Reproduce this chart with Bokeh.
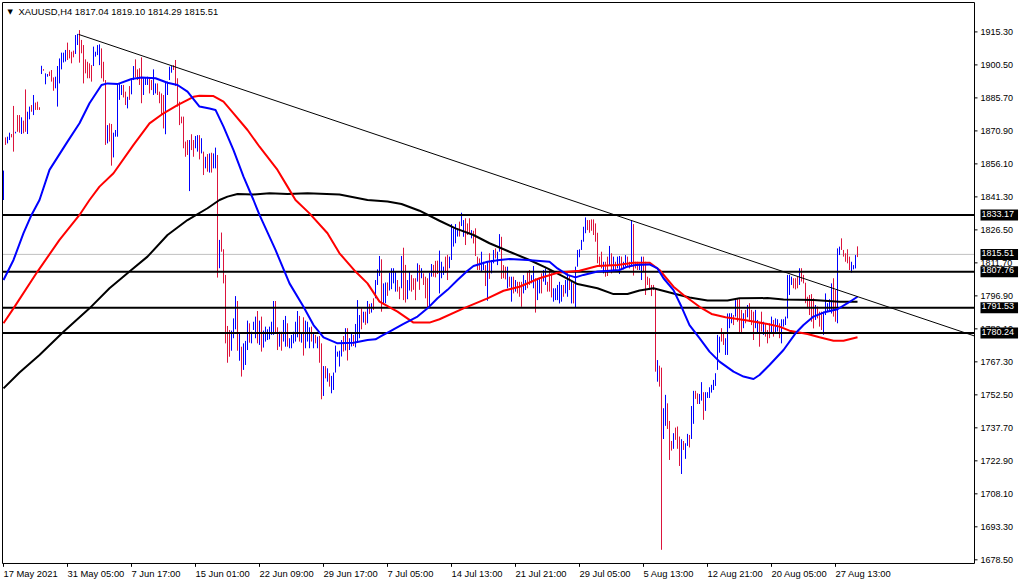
from bokeh.plotting import figure
from bokeh.embed import file_html
from bokeh.resources import INLINE
from bokeh.core.properties import value
from bokeh.models import Label, Range1d

# H4 bars, one per index
bar_high = [
    1853.1, 1868.0, 1868.3, 1870.1, 1869.5, 1882.1, 1870.5, 1878.0, 1878.0, 1877.0,
    1875.5, 1889.5, 1879.5, 1881.8, 1882.5, 1887.0, 1883.6, 1884.0, 1881.5, 1900.1,
    1898.6, 1896.7, 1896.4, 1897.5, 1898.2, 1894.9, 1895.2, 1900.0, 1903.4, 1906.0,
    1906.0, 1907.2, 1910.5, 1907.2, 1906.4, 1906.9, 1913.9, 1914.4, 1916.1, 1911.7,
    1909.4, 1903.0, 1901.9, 1901.2, 1900.4, 1908.7, 1906.4, 1909.4, 1909.7, 1907.9,
    1901.9, 1893.7, 1873.5, 1874.3, 1874.0, 1870.1, 1871.3, 1891.5, 1892.2, 1891.5,
    1891.5, 1888.5, 1886.2, 1891.0, 1893.7, 1900.0, 1903.0, 1898.5, 1899.0, 1903.9,
    1894.5, 1894.9, 1895.2, 1894.5, 1893.7, 1898.5, 1892.2, 1892.2, 1888.5, 1887.7,
    1887.0, 1893.0, 1893.0, 1899.7, 1900.0, 1900.4, 1902.7, 1894.5, 1884.0, 1877.3,
    1877.3, 1866.1, 1866.8, 1866.8, 1869.4, 1866.8, 1868.6, 1869.0, 1869.0, 1867.6,
    1861.6, 1859.3, 1860.5, 1860.8, 1861.1, 1860.8, 1863.4, 1860.1, 1822.0, 1825.3,
    1817.8, 1806.3, 1783.4, 1781.6, 1781.3, 1786.8, 1796.8, 1794.6, 1780.4, 1774.1,
    1775.6, 1776.7, 1785.8, 1784.6, 1780.8, 1785.3, 1787.6, 1790.1, 1785.8, 1787.6,
    1781.3, 1783.1, 1781.9, 1783.1, 1785.3, 1794.6, 1794.6, 1782.8, 1780.8, 1780.8,
    1786.1, 1787.9, 1784.6, 1777.9, 1779.4, 1780.8, 1785.3, 1790.1, 1787.9, 1780.1,
    1787.3, 1785.8, 1785.3, 1782.8, 1783.1, 1780.1, 1779.4, 1778.6, 1778.9, 1775.6,
    1765.4, 1765.4, 1764.4, 1762.2, 1761.0, 1762.5, 1774.6, 1771.9, 1772.3, 1777.1,
    1778.9, 1782.4, 1782.4, 1777.9, 1780.1, 1779.4, 1784.3, 1795.0, 1788.3, 1791.3,
    1789.8, 1789.8, 1794.6, 1793.3, 1793.6, 1795.8, 1804.0, 1808.8, 1814.8, 1813.3,
    1802.5, 1802.9, 1802.9, 1807.3, 1809.3, 1809.3, 1807.8, 1804.0, 1801.0, 1814.8,
    1818.5, 1810.8, 1804.0, 1807.8, 1806.3, 1804.8, 1804.8, 1811.5, 1810.8, 1809.3,
    1807.0, 1805.5, 1804.8, 1807.3, 1811.2, 1810.8, 1812.6, 1812.7, 1817.2, 1812.2,
    1810.0, 1814.5, 1815.3, 1814.5, 1829.1, 1827.2, 1829.1, 1827.2, 1830.2, 1834.2,
    1830.9, 1831.7, 1829.4, 1831.7, 1826.4, 1826.1, 1827.2, 1814.5, 1813.7, 1816.7,
    1812.2, 1810.7, 1812.2, 1816.0, 1813.0, 1817.5, 1818.2, 1816.7, 1824.6, 1823.4,
    1810.7, 1810.0, 1810.0, 1805.5, 1805.5, 1805.5, 1804.0, 1803.2, 1803.2, 1803.2,
    1806.2, 1804.0, 1807.7, 1808.5, 1806.2, 1810.3, 1804.8, 1804.0, 1804.8, 1807.0,
    1808.5, 1809.2, 1803.2, 1808.5, 1807.0, 1800.3, 1800.3, 1801.8, 1803.2, 1801.8,
    1801.8, 1804.0, 1807.0, 1806.2, 1803.2, 1802.5, 1810.0, 1817.5, 1817.8, 1822.0,
    1827.9, 1832.1, 1830.9, 1830.9, 1831.2, 1831.2, 1829.4, 1825.2, 1814.5, 1816.7,
    1812.2, 1812.2, 1814.5, 1819.3, 1816.0, 1814.5, 1812.2, 1814.5, 1814.8, 1814.5,
    1812.2, 1815.2, 1814.5, 1812.2, 1830.9, 1829.1, 1812.2, 1812.2, 1811.5, 1814.5,
    1814.5, 1812.2, 1805.5, 1804.8, 1801.8, 1801.8, 1800.3, 1768.1, 1765.6, 1764.7,
    1746.5, 1752.5, 1748.7, 1740.8, 1731.8, 1735.3, 1737.8, 1738.3, 1733.8, 1732.6,
    1731.8, 1730.8, 1735.0, 1734.5, 1747.5, 1754.3, 1754.3, 1753.2, 1752.9, 1758.2,
    1753.7, 1753.7, 1753.7, 1755.9, 1757.0, 1759.2, 1762.2, 1779.4, 1778.6, 1782.4,
    1780.1, 1777.9, 1789.0, 1789.1, 1789.1, 1788.3, 1795.0, 1795.4, 1795.4, 1790.6,
    1789.1, 1790.6, 1792.8, 1793.6, 1790.6, 1789.8, 1790.6, 1786.1, 1785.3, 1789.8,
    1785.3, 1784.6, 1781.6, 1784.6, 1787.6, 1786.1, 1786.8, 1786.4, 1784.6, 1786.4,
    1786.4, 1787.6, 1806.3, 1806.3, 1805.5, 1804.8, 1804.8, 1805.5, 1809.3, 1809.3,
    1806.3, 1802.8, 1796.5, 1797.3, 1797.7, 1795.8, 1792.8, 1792.1, 1789.8, 1789.8,
    1789.8, 1798.0, 1793.6, 1795.4, 1802.5, 1804.8, 1799.5, 1818.2, 1819.0, 1822.7,
    1817.5, 1816.0, 1817.8, 1814.5, 1812.2, 1810.7, 1815.2, 1819.10,
]
bar_low = [
    1839.9, 1864.6, 1865.3, 1866.8, 1868.0, 1861.6, 1869.8, 1870.5, 1870.1, 1869.5,
    1869.8, 1870.5, 1869.5, 1876.1, 1879.5, 1878.0, 1880.3, 1880.3, 1880.3, 1896.4,
    1897.9, 1891.8, 1895.2, 1895.5, 1893.0, 1888.9, 1890.0, 1881.8, 1892.2, 1898.5,
    1901.6, 1902.0, 1902.7, 1903.4, 1901.2, 1903.9, 1905.4, 1909.4, 1901.5, 1905.7,
    1892.2, 1896.7, 1894.5, 1894.5, 1893.0, 1900.0, 1904.2, 1904.9, 1900.4, 1894.5,
    1893.0, 1864.6, 1865.3, 1866.1, 1855.3, 1859.0, 1868.3, 1868.3, 1884.8, 1887.0,
    1885.9, 1882.5, 1881.0, 1884.8, 1887.3, 1893.7, 1894.9, 1893.7, 1891.5, 1883.3,
    1887.0, 1891.5, 1891.5, 1887.7, 1889.2, 1887.0, 1887.7, 1887.0, 1883.3, 1878.0,
    1872.0, 1869.4, 1887.0, 1893.7, 1897.0, 1898.2, 1891.0, 1881.8, 1873.5, 1874.3,
    1863.1, 1859.3, 1860.1, 1843.9, 1862.3, 1859.3, 1863.1, 1861.6, 1858.1, 1860.8,
    1851.1, 1854.1, 1852.6, 1852.2, 1852.2, 1854.1, 1854.1, 1805.1, 1809.3, 1816.7,
    1802.5, 1775.6, 1766.9, 1769.6, 1772.3, 1777.9, 1781.9, 1772.3, 1767.8, 1760.7,
    1763.7, 1765.9, 1772.6, 1775.9, 1775.6, 1781.6, 1777.9, 1775.6, 1774.9, 1771.9,
    1773.7, 1776.4, 1777.1, 1777.4, 1779.4, 1779.4, 1779.8, 1772.6, 1774.1, 1772.3,
    1776.4, 1774.1, 1774.1, 1773.4, 1773.4, 1775.6, 1776.4, 1778.3, 1776.4, 1775.9,
    1770.1, 1773.4, 1776.4, 1773.4, 1776.4, 1773.4, 1775.6, 1773.4, 1766.9, 1750.5,
    1752.0, 1759.9, 1758.4, 1756.2, 1753.2, 1754.7, 1762.5, 1769.6, 1765.2, 1769.7,
    1771.9, 1772.4, 1767.9, 1772.6, 1774.2, 1774.4, 1773.8, 1775.9, 1777.9, 1781.9,
    1784.9, 1783.9, 1784.6, 1788.8, 1789.4, 1790.6, 1795.8, 1801.8, 1805.8, 1789.8,
    1792.8, 1793.6, 1796.9, 1799.3, 1799.9, 1802.5, 1798.8, 1798.8, 1795.4, 1800.3,
    1795.0, 1793.9, 1795.4, 1799.3, 1798.8, 1799.6, 1795.0, 1803.3, 1799.6, 1804.8,
    1801.8, 1795.8, 1791.3, 1791.8, 1805.5, 1805.5, 1805.2, 1806.7, 1798.0, 1804.8,
    1806.3, 1807.3, 1804.0, 1809.3, 1813.0, 1819.0, 1820.5, 1823.5, 1823.5, 1828.2,
    1823.4, 1819.7, 1824.2, 1825.0, 1822.7, 1820.4, 1814.8, 1808.5, 1808.5, 1807.7,
    1808.5, 1801.3, 1794.7, 1804.5, 1807.0, 1811.5, 1813.7, 1810.7, 1816.7, 1804.5,
    1804.8, 1804.3, 1800.3, 1801.0, 1794.3, 1798.0, 1798.8, 1798.0, 1796.5, 1792.0,
    1798.0, 1799.5, 1800.3, 1801.8, 1802.5, 1800.3, 1789.4, 1795.0, 1798.0, 1798.0,
    1803.3, 1801.8, 1798.8, 1798.8, 1796.2, 1794.3, 1795.0, 1795.0, 1793.5, 1794.3,
    1796.5, 1798.0, 1796.5, 1799.5, 1793.5, 1793.5, 1791.7, 1810.0, 1814.2, 1817.5,
    1821.2, 1825.0, 1826.4, 1825.2, 1826.1, 1824.2, 1821.2, 1811.5, 1810.0, 1809.2,
    1807.0, 1805.5, 1805.8, 1810.7, 1807.0, 1808.5, 1808.5, 1809.2, 1806.7, 1808.5,
    1808.8, 1810.0, 1810.0, 1809.2, 1810.0, 1806.0, 1809.2, 1808.5, 1808.5, 1804.0,
    1808.0, 1797.3, 1801.8, 1799.5, 1796.8, 1799.5, 1762.9, 1758.4, 1756.2, 1683.0,
    1732.7, 1738.6, 1737.2, 1723.3, 1727.5, 1728.3, 1732.3, 1728.3, 1720.6, 1717.0,
    1727.8, 1723.8, 1729.6, 1728.9, 1732.7, 1739.5, 1750.7, 1748.4, 1748.4, 1749.9,
    1741.3, 1745.3, 1751.1, 1751.1, 1753.5, 1754.7, 1756.5, 1763.7, 1771.4, 1776.4,
    1774.9, 1770.4, 1770.4, 1782.4, 1784.6, 1783.8, 1787.6, 1785.3, 1779.8, 1780.1,
    1782.4, 1784.6, 1787.3, 1785.3, 1783.8, 1777.1, 1782.4, 1780.1, 1774.1, 1780.9,
    1779.4, 1778.6, 1775.6, 1777.9, 1780.1, 1778.6, 1780.1, 1780.9, 1777.9, 1775.6,
    1783.1, 1783.8, 1786.8, 1797.3, 1801.8, 1800.3, 1799.8, 1800.3, 1801.8, 1803.3,
    1802.5, 1793.6, 1791.3, 1788.3, 1785.3, 1782.3, 1786.1, 1786.8, 1783.1, 1781.6,
    1779.4, 1788.3, 1789.8, 1790.6, 1789.0, 1787.6, 1785.3, 1784.6, 1815.2, 1817.5,
    1814.5, 1812.2, 1811.5, 1808.5, 1807.3, 1808.8, 1809.2, 1814.29,
]
# b = bull bar, r = bear bar
bar_dir = (
    "brbbrrbrrb" "rrbbrbrrrb" "rbbrrrbbbb" "bbrrrrbbrr" "rrrrrbbbbr"
    "rrbrrbbbbb" "rrbrbbrrrr" "bbbrrbbrrr" "rbbbbrrrrr" "rrrbrrbbrb"
    "rbrbrbbrbr" "rrrrbbbrbr" "bbbrbbbrbr" "bbbbbbrrbr" "bbrbbbbbrb"
    "rbbbrbrbrr" "brbrbbbbbb" "rbrbbrbbbr" "brbrbrbbbr" "bbrbbbbrrb"
    "rrbbrrrbrb" "rrrbbrrrbb" "brrbbbbbrb" "brrrbrrrrb" "brbrbbrbbr"
    "rrbrbrbrrr" "bbrrbbrbbr" "bbrrrbbbbb" "rbbrbrbbbb" "bbrrrrrrrr"
    "brrbrbrbbr" "bbrrbrrrbb" "rrrrrrrbrr" "bbrrrbrrrb" "rbbrbbrrbb"
    "rbbbbbbbbr" "rbbbbrbrrr" "brbrrrbbrr" "brrrbrbbrb" "bbbbbrrrbr"
    "rrrrrrbrrr" "bbbbbrrbbr" "rrrrbbbr"
)

ma_fast_k = [0, 5, 10, 14, 18, 23, 32, 38, 43, 49, 52, 57, 64, 69, 76, 82, 87, 92, 98, 103, 106, 110, 115, 120,
             125, 128, 136, 143, 150, 155, 160, 165, 167, 175, 182, 186, 189, 193, 200, 207, 212, 217, 222, 227,
             232, 235, 242, 248, 253, 262, 273, 277, 282, 286, 290, 297, 303, 308, 312, 316, 323, 327, 330, 335,
             339, 343, 348, 353, 358, 365, 370, 375, 378, 383, 390, 396, 400, 405, 410, 417, 422, 427]
ma_fast = [1804, 1813, 1825, 1833.2, 1839.9, 1853.4, 1866.1, 1874.3, 1883.3, 1891.5, 1892.2, 1891.9, 1894.2, 1894.8,
           1894.5, 1892.5, 1891.5, 1888.5, 1881.8, 1880.9, 1880.3, 1872.8, 1862.3, 1850.4,
           1839.9, 1833.2, 1817.5, 1802.5, 1792, 1783.8, 1778.3, 1776.4, 1775.6, 1775.9, 1777.1, 1777.4, 1778.9,
           1780.9, 1784.3, 1787.6, 1791.3, 1795.8, 1799.6, 1804,
           1808.2, 1810.3, 1812.2, 1813, 1813.4, 1813, 1812.2, 1809.2, 1806.3, 1805.2, 1806.3, 1807.8, 1808.2,
           1808.5, 1810, 1810.7, 1811, 1809.2, 1804.8, 1799.5,
           1792, 1783.8, 1777.9, 1771.9, 1767.4, 1762.9, 1760.7, 1759.6, 1761.4, 1765.9, 1772.6, 1780.1, 1783.8,
           1787.6, 1789.4, 1790.9, 1793.6, 1796.5]

ma_mid_k = [0, 5, 17, 28, 38, 43, 48, 55, 65, 73, 80, 87, 95, 98, 105, 110, 115, 122, 128, 137, 142, 146, 153, 162,
            168, 176, 182, 188, 197, 205, 213, 218, 230, 242, 250, 258, 268, 277, 288, 297, 307, 315, 323, 328,
            335, 340, 348, 354, 361, 372, 382, 388, 393, 402, 408, 415, 420, 427]
ma_mid = [1784.6, 1791.3, 1807.8, 1822, 1833.2, 1839.9, 1845.9, 1851.9, 1864.6, 1874.3, 1878.8, 1882.5, 1886.2,
          1886.7, 1886.5, 1884, 1878.8, 1871.3, 1863.8, 1853.4, 1845.9, 1839.9, 1833.9, 1825,
          1816, 1807.8, 1802.5, 1794.3, 1789.8, 1784.9, 1784.9, 1786.4, 1791.3, 1795.8, 1799.2, 1801, 1804.8,
          1807.3, 1808.2, 1810.3, 1810.7, 1811.8, 1811.8, 1808.5,
          1801, 1797.3, 1792, 1788.8, 1787.3, 1785.8, 1784.3, 1783.1, 1781.3, 1779.8, 1778.3, 1776.8, 1776.8, 1778.3]

ma_slow_k = [0, 8, 18, 30, 43, 53, 63, 72, 82, 92, 102, 108, 112, 117, 125, 133, 142, 152, 168, 182, 192, 199, 208,
             218, 226, 235, 243, 253, 263, 272, 280, 287, 297, 305, 312, 318, 325, 335, 343, 352, 362, 368, 382,
             390, 405, 418, 427]
ma_slow = [1755.4, 1762.5, 1770.4, 1780.8, 1791.3, 1800.3, 1807.8, 1814.5, 1824.2, 1830.9, 1836.2, 1839.9, 1841.4,
           1842.6, 1842.4, 1842.9, 1842.6, 1842.9, 1842.4, 1839.9, 1839.2, 1838.1, 1835.1,
           1830.6, 1827.2, 1824.2, 1820.5, 1816.7, 1813, 1809.2, 1805.5, 1802.2, 1800.3, 1797.7, 1797.7, 1799.3,
           1800.3, 1798, 1796.2, 1794.8, 1794.8, 1795.8, 1795.9,
           1795.3, 1795, 1794.3, 1794.3]

# drawn objects
level_prices = [1833.17, 1807.76, 1791.53, 1780.24]
last_price = 1815.51
trend_k = [37.5, 485.5]
trend_price = [1914.2, 1778.9]

price_ticks = [1915.30, 1900.50, 1885.70, 1870.90, 1856.10, 1841.30, 1826.50, 1811.70, 1796.90,
               1782.10, 1767.30, 1752.50, 1737.70, 1722.90, 1708.10, 1693.30, 1678.50]
time_ticks = [0, 32, 64, 96, 128, 160, 192, 224, 256, 288, 320, 352, 384, 416]
time_labels = ["17 May 2021", "31 May 05:00", "7 Jun 17:00", "15 Jun 01:00", "22 Jun 09:00", "29 Jun 17:00",
               "7 Jul 05:00", "14 Jul 13:00", "21 Jul 21:00", "29 Jul 05:00", "5 Aug 13:00", "12 Aug 21:00",
               "20 Aug 05:00", "27 Aug 13:00"]
header = "XAUUSD,H4  1817.04 1819.10 1814.29 1815.51"

assert len(bar_high) == len(bar_low) == len(bar_dir) == 428

FONT = "Liberation Sans"
BULL = "#0000ff"
BEAR = "#dc143c"

# the frame fills the page so the scale and its price boxes can live inside it
X0, X1 = -1.0, 508.5
Y0, Y1 = 1667.43, 1928.94
CHART_R = 485.5    # index of the right scale line
CHART_B = 1676.85  # price of the bottom scale line
CHART_T = 1928.49

p = figure(width=1020, height=584, output_backend="svg", toolbar_location=None,
           x_range=Range1d(X0, X1), y_range=Range1d(Y0, Y1),
           x_axis_location=None, y_axis_location=None,
           min_border_left=1, min_border_top=1, min_border_right=0, min_border_bottom=0,
           background_fill_color="white", outline_line_color=None)
p.grid.visible = False

p.line([-0.5, CHART_R], [last_price, last_price], line_color="#c0c0c0", line_width=1)

bar_k = list(range(len(bar_high)))
bar_colors = [BULL if d == "b" else BEAR for d in bar_dir]
p.segment(bar_k, bar_low, bar_k, bar_high, line_color=bar_colors, line_width=1)

for price in level_prices:
    p.line([-0.5, CHART_R], [price, price], line_color="black", line_width=2)

p.line(ma_slow_k, ma_slow, line_color="black", line_width=2)
p.line(ma_mid_k, ma_mid, line_color="#ff0000", line_width=2)
p.line(ma_fast_k, ma_fast, line_color="#0000ff", line_width=2)
p.line(trend_k, trend_price, line_color="black", line_width=1)

# chart border and scales
p.line([-0.5, -0.5, CHART_R, CHART_R, -0.5], [CHART_B, CHART_T, CHART_T, CHART_B, CHART_B],
       line_color="black", line_width=1)
p.segment([CHART_R] * len(price_ticks), price_ticks, [CHART_R + 1.5] * len(price_ticks), price_ticks,
          line_color="black", line_width=1)
p.segment(time_ticks, [CHART_B] * len(time_ticks), time_ticks, [CHART_B - 1.5] * len(time_ticks),
          line_color="black", line_width=1)
p.text([CHART_R + 3] * len(price_ticks), price_ticks, text=[f"{t:.2f}" for t in price_ticks],
       text_font=value(FONT), text_font_size="9px", text_color="black",
       text_align="left", text_baseline="middle")
p.text(time_ticks, [CHART_B - 4.3] * len(time_ticks), text=time_labels,
       text_font=value(FONT), text_font_size="9.4px", text_color="black",
       text_align="left", text_baseline="middle")

# price boxes on the scale
for price in level_prices + [last_price]:
    p.add_layout(Label(x=CHART_R + 3, y=price, text=f"{price:.2f}",
                       text_font=FONT, text_font_size="9px", text_color="white",
                       text_align="left", text_baseline="middle",
                       background_fill_color="black", padding=(1, 4, 1, 4)))

p.add_layout(Label(x=17, y=573, x_units="screen", y_units="screen", text=header,
                   text_font=FONT, text_font_size="9.4px", text_color="black",
                   text_align="left", text_baseline="middle"))
p.add_layout(Label(x=6, y=573, x_units="screen", y_units="screen", text="▼",
                   text_font="DejaVu Sans", text_font_size="7px", text_color="black",
                   text_align="left", text_baseline="middle"))

open("out.html", "w").write(file_html(p, INLINE))
